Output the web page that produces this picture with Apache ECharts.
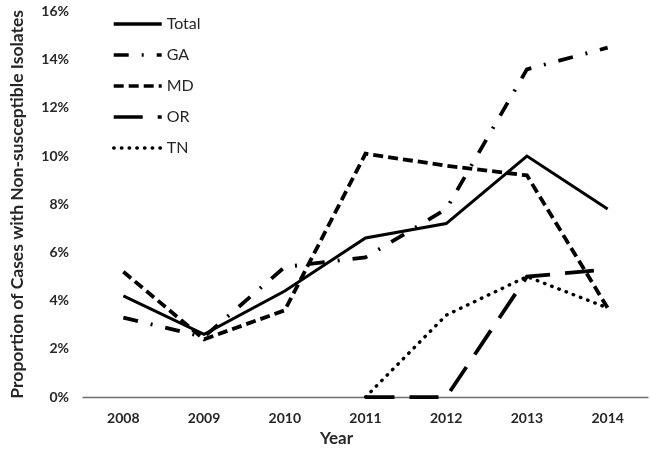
<!DOCTYPE html>
<html>
<head>
<meta charset="utf-8">
<script src="https://cdn.jsdelivr.net/npm/echarts@6/dist/echarts.min.js"></script>
<style>
html,body{margin:0;padding:0;background:#fff;}
#chart{width:650px;height:452px;}
</style>
</head>
<body>
<div id="chart"></div>
<script>
var years = ['2008','2009','2010','2011','2012','2013','2014'];
var total = [4.2, 2.6, 4.4, 6.6, 7.2, 10.0, 7.8];
var ga    = [3.3, 2.5, 5.4, 5.8, 7.8, 13.6, 14.5];
var md    = [5.2, 2.4, 3.6, 10.1, 9.6, 9.2, 3.7];
var or    = ['-', '-', '-', 0, 0, 5.0, 5.3];
var tn    = ['-', '-', '-', 0, 3.4, 5.0, 3.7];
var yTicks = [0, 2, 4, 6, 8, 10, 12, 14, 16];

var FONT = 'Lato';
var chart = echarts.init(document.getElementById('chart'), null, {renderer:'canvas'});

function ser(name, data, width, dash, cap) {
  return {
    name: name, type: 'line', data: data, symbol: 'none', showSymbol: false,
    connectNulls: false, animation: false, silent: true, color: '#000',
    itemStyle: {color: '#000', opacity: 0},
    lineStyle: {color: '#000', width: width, type: dash, cap: cap || 'butt', join: 'miter'}
  };
}

chart.setOption({
  animation: false,
  color: ['#000'],
  textStyle: {fontFamily: FONT},
  grid: {left: 77, right: 2, top: 11.5, bottom: 54, containLabel: false},
  legend: {
    orient: 'vertical', left: 112, top: 16, padding: 0,
    itemWidth: 48, itemHeight: 14, itemGap: 15,
    itemStyle: {opacity: 0},
    lineStyle: {width: 3.4},
    textStyle: {fontFamily: FONT, fontSize: 16, color: '#262626'},
    data: ['Total', 'GA', 'MD', 'OR', 'TN']
  },
  xAxis: {
    type: 'category', data: years, boundaryGap: true,
    name: 'Year', nameLocation: 'middle', nameGap: 32,
    nameTextStyle: {fontFamily: FONT, fontSize: 17, fontWeight: 'bold', color: '#262626', padding: [0, 58, 0, 0]},
    axisLine: {show: true, lineStyle: {color: '#6e6e6e', width: 1.3}},
    axisTick: {show: false},
    axisLabel: {fontFamily: FONT, fontSize: 14, fontWeight: 'bold', color: '#262626', margin: 14},
    splitLine: {show: false}
  },
  yAxis: {
    type: 'value', min: yTicks[0], max: yTicks[yTicks.length - 1], interval: 2,
    name: 'Proportion of Cases with Non-susceptible Isolates', nameLocation: 'middle', nameGap: 57,
    nameTextStyle: {fontFamily: FONT, fontSize: 17.5, fontWeight: 'bold', color: '#262626'},
    axisLine: {show: false}, axisTick: {show: false}, splitLine: {show: false},
    axisLabel: {fontFamily: FONT, fontSize: 14, fontWeight: 'bold', color: '#262626', margin: 14,
      formatter: function (v) { return v + '%'; }}
  },
  series: [
    ser('Total', total, 3, 'solid'),
    ser('GA', ga, 3.8, [15, 13, 2, 13]),
    ser('MD', md, 3.8, [10, 5]),
    ser('OR', or, 3.8, [29, 15]),
    ser('TN', tn, 3.4, [0.5, 7.2], 'round')
  ]
});
</script>
</body>
</html>
